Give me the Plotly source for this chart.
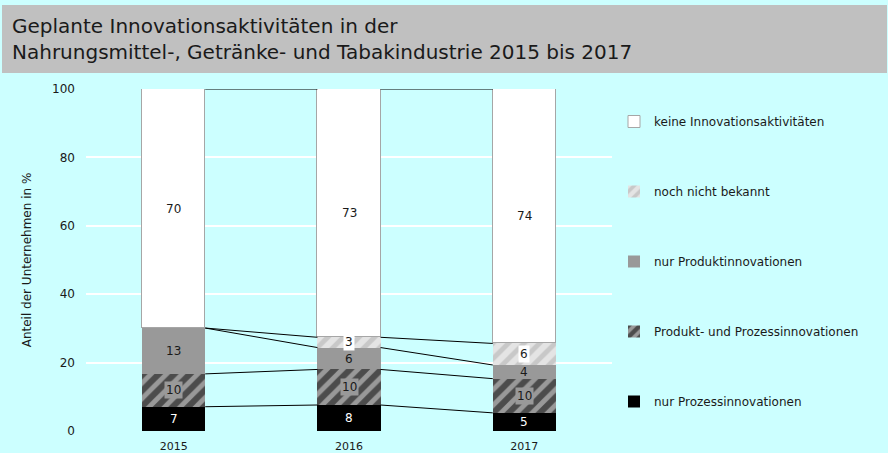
import plotly.graph_objects as go

years = ["2015", "2016", "2017"]
series_names = [
    "nur Prozessinnovationen",
    "Produkt- und Prozessinnovationen",
    "nur Produktinnovationen",
    "noch nicht bekannt",
    "keine Innovationsaktivitäten",
]
nur_prozess = [7.1, 7.6, 5.3]
produkt_prozess = [9.6, 10.4, 10.0]
nur_produkt = [13.4, 6.4, 4.0]
noch_nicht = [0.0, 3.0, 6.3]
keine = [69.9, 72.6, 74.4]
y_ticks = [0, 20, 40, 60, 80, 100]

values = [nur_prozess, produkt_prozess, nur_produkt, noch_nicht, keine]
BG = "#ccffff"
W = 888
H = 453
L, R, T, B = 86, 276, 89, 22
PW = W - L - R
PH = H - T - B

styles = [
    dict(color="black", line=dict(color="black", width=0)),
    dict(color="#999999", line=dict(color="#999999", width=0),
         pattern=dict(shape="/", fgcolor="black", size=11, solidity=0.55)),
    dict(color="#999999", line=dict(color="#999999", width=0)),
    dict(color="#c8c8c8", line=dict(color="#c8c8c8", width=0),
         pattern=dict(shape="/", fgcolor="white", size=11, solidity=0.55)),
    dict(color="white", line=dict(color="#a6a6a6", width=1)),
]
label_fg = ["white", "#1a1a1a", "#1a1a1a", "#1a1a1a", "#1a1a1a"]
label_bg = [None, "#999999", None, "white", None]

xs = [0, 1, 2]
bw = 0.36
fig = go.Figure()

# series lines connecting stack boundaries
cum = []
for i in range(3):
    c, s = [], 0
    for v in values:
        s += v[i]
        c.append(s)
    cum.append(c)
for i in range(2):
    for k in range(len(values)):
        fig.add_trace(go.Scatter(
            x=[xs[i] + bw / 2, xs[i + 1] - bw / 2], y=[cum[i][k], cum[i + 1][k]],
            mode="lines", line=dict(color="black", width=1),
            showlegend=False, hoverinfo="skip"))

n = len(series_names)
for k, (name, v) in enumerate(zip(series_names, values)):
    fig.add_trace(go.Bar(
        x=xs, y=v, name=name, width=bw, marker=styles[k],
        legendgroup=name, legendrank=n - k,
    ))

annotations = []
for i in range(3):
    base = 0
    for k, v in enumerate(values):
        val = v[i]
        if round(val) > 0:
            a = dict(x=xs[i], y=base + val / 2, xref="x", yref="y",
                     text=str(int(round(val))), showarrow=False,
                     font=dict(family="DejaVu Sans", size=12, color=label_fg[k]),
                     borderpad=1)
            if label_bg[k]:
                a["bgcolor"] = label_bg[k]
            annotations.append(a)
        base += val

fig.update_layout(
    width=W, height=H,
    paper_bgcolor=BG, plot_bgcolor=BG,
    barmode="stack", bargap=0,
    margin=dict(l=L, r=R, t=T, b=B, autoexpand=False),
    font=dict(family="DejaVu Sans", size=12, color="#1a1a1a"),
    title=dict(
        text="Geplante Innovationsaktivitäten in der<br>Nahrungsmittel-, Getränke- und Tabakindustrie 2015 bis 2017",
        x=12 / W, xanchor="left", xref="container",
        y=1 - 33 / H, yanchor="top", yref="container",
        font=dict(family="DejaVu Sans", size=20, color="#1a1a1a"),
    ),
    shapes=[dict(type="rect", xref="paper", yref="paper",
                 x0=(2 - L) / PW, x1=(887 - L) / PW,
                 y0=(H - B - 73) / PH, y1=(H - B - 5) / PH,
                 fillcolor="#c0c0c0", line=dict(width=0), layer="below")],
    xaxis=dict(range=[-0.5, 2.5], tickvals=xs, ticktext=years, showgrid=False,
               zeroline=False, showline=False, ticks="",
               tickfont=dict(size=11), ticklabelstandoff=7),
    yaxis=dict(range=[0, 100], tickvals=y_ticks, showgrid=True, gridcolor="white",
               gridwidth=2, zeroline=False, showline=False, ticks="",
               tickfont=dict(size=12), ticklabelstandoff=10,
               title=dict(text="Anteil der Unternehmen in %", font=dict(size=12), standoff=17)),
    legend=dict(x=(614 - L) / PW, xanchor="left", y=(H - B - 107) / PH, yanchor="top",
                traceorder="grouped", tracegroupgap=51,
                bgcolor="rgba(0,0,0,0)", font=dict(size=12)),
    annotations=annotations,
)
fig.write_html("out.html", config={"displayModeBar": False},
               post_script="document.body.style.margin='0';")
